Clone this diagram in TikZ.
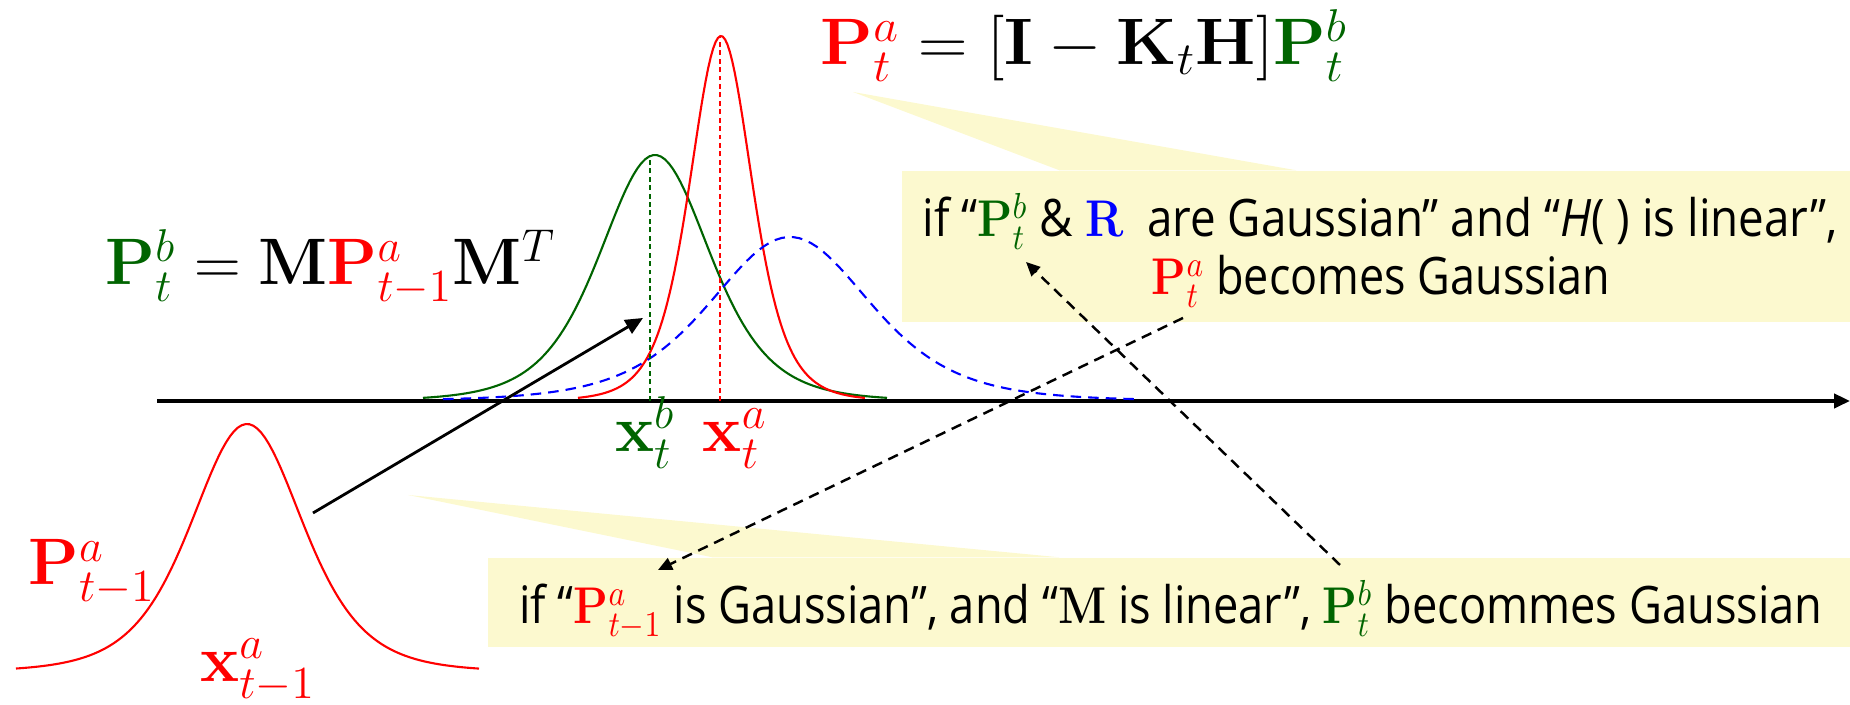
\RequirePackage{fix-cm}
\documentclass[tikz,border=0pt]{standalone}
\usepackage[no-math]{fontspec}
\setmainfont{Open Sans}
\usetikzlibrary{arrows.meta, positioning, calc}

\definecolor{anared}{RGB}{255,0,0}
\definecolor{bggreen}{RGB}{0,100,0}
\definecolor{obsblue}{RGB}{0,0,255}
\definecolor{noteyellow}{RGB}{252,249,207}
\newcommand{\fitw}[2]{\resizebox{#1}{\height}{#2}}

\begin{document}
\begin{tikzpicture}[x=0.1mm, y=0.1mm,
  declare function={bump(\q,\m,\s)=1/(1+((\q-\m)/\s)^2)^3;},
  pdf/.style={line width=0.6pt},
  guide/.style={dash pattern=on 1.4pt off 1pt, line width=0.45pt},
  formula/.style={font=\fontsize{18.7}{22}\selectfont, inner sep=0pt, anchor=base},
  note/.style={fill=noteyellow, inner sep=0pt},
  notetext/.style={font=\fontsize{14.7}{16.5}\selectfont, inner sep=0pt, anchor=base},
  link/.style={dash pattern=on 3pt off 2pt, line width=0.7pt, -{Triangle[length=4pt, width=3.6pt]}}]
  \useasboundingbox (0,0) rectangle (1850,705);

  \node[note, minimum width=9.48cm, minimum height=1.51cm] (notetop) at (1376,458.5) {};
  \node[note, minimum width=13.62cm, minimum height=0.89cm] (notebot) at (1169,102.5) {};
  \coordinate (kalmantip) at (853,613);
  \coordinate (forecasttip) at (408,210);
  \fill[noteyellow] (kalmantip) -- ($(notetop.north west)+(158,0)$) -- ($(notetop.north west)+(395,0)$) -- cycle;
  \fill[noteyellow] (forecasttip) -- ($(notebot.north west)+(225,0)$) -- ($(notebot.north west)+(572,0)$) -- cycle;
  \node[notetext] (topline) at (1380,468) {\fitw{9.15cm}{if “$\textcolor{bggreen}{\mathbf{P}^{b}_{t}}$ \& $\textcolor{obsblue}{\mathbf{R}}$\ \ are Gaussian” and “\textit{H}( ) is linear”,}};
  \node[notetext] (topline2) at (1381,410) {\fitw{4.58cm}{$\textcolor{anared}{\mathbf{P}^{a}_{t}}$ becomes Gaussian}};
  \node[notetext] (botline) at (1171,81) {\fitw{13.03cm}{if “$\textcolor{anared}{\mathbf{P}^{a}_{t-1}}$ is Gaussian”, and “$\mathbf{M}$ is linear”, $\textcolor{bggreen}{\mathbf{P}^{b}_{t}}$ becommes Gaussian}};

  \coordinate (axisL) at (157,304);
  \coordinate (axisR) at (1850,304);
  \draw[line width=1pt, -{Triangle[length=4.5pt, width=4pt]}] (axisL) -- (axisR);

  \draw[anared, pdf] plot[domain=16:479, samples=120] (\x, {33+248*bump(\x,247,130)});
  \draw[bggreen, pdf] plot[domain=423:887, samples=120] (\x, {304+246*bump(\x,655,128)});
  \draw[anared, pdf] plot[domain=578:865, samples=120] (\x, {304+365*bump(\x,721,72.5)});
  \draw[obsblue, pdf, dash pattern=on 3pt off 2pt] plot[domain=443:1138, samples=120] (\x, {304+164*bump(\x,790,186)});
  \draw[bggreen, guide] (650,304) -- (650,550);
  \draw[anared, guide] (720,304) -- (720,669);

  \node[formula, anchor=base west] (kalman) at (820,640) {\fitw{5.27cm}{$\textcolor{anared}{\mathbf{P}^{a}_{t}} = [\mathbf{I}-\mathbf{K}_{t}\mathbf{H}]\textcolor{bggreen}{\mathbf{P}^{b}_{t}}$}};
  \node[formula, anchor=base west] (forecast) at (105,420) {\fitw{4.50cm}{$\textcolor{bggreen}{\mathbf{P}^{b}_{t}} = \mathbf{M}\textcolor{anared}{\mathbf{P}^{a}_{t-1}}\mathbf{M}^{T}$}};
  \node[formula, text=anared] (prevcov) at (92,120) {$\mathbf{P}^{a}_{t-1}$};
  \node[formula, text=anared] (prevmean) at (258,23) {$\mathbf{x}^{a}_{t-1}$};
  \node[formula, text=bggreen] (bgmean) at (645,253) {$\mathbf{x}^{b}_{t}$};
  \node[formula, text=anared] (anmean) at (735,253) {$\mathbf{x}^{a}_{t}$};

  \coordinate (prevtail) at (313,192);
  \coordinate (bghead) at (643,387);
  \draw[line width=0.8pt, -{Triangle[length=5pt, width=4.4pt]}] (prevtail) -- (bghead);

  \coordinate (pastart) at (1183,387);
  \coordinate (prevhead) at (658,135);
  \coordinate (pbstart) at (1340,140);
  \coordinate (pbhead) at (1026,443);
  \draw[link] (pastart) -- (prevhead);
  \draw[link] (pbstart) -- (pbhead);
\end{tikzpicture}
\end{document}
